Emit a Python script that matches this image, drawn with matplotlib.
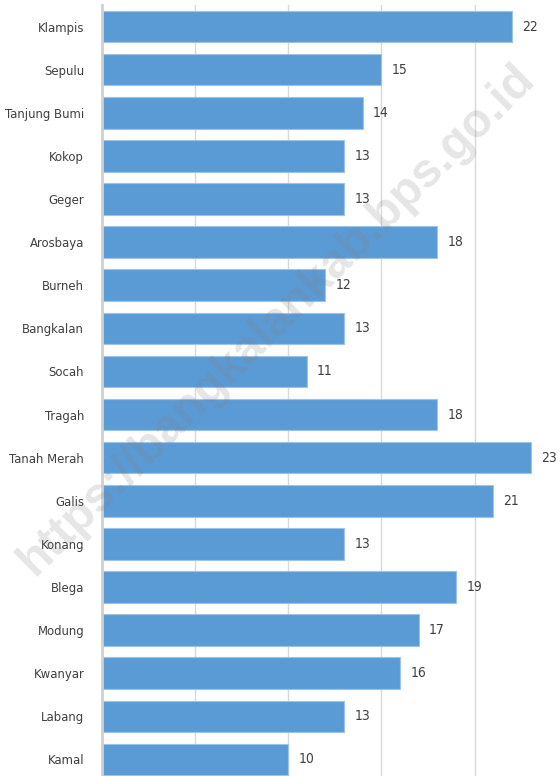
import matplotlib
matplotlib.use("Agg")
import matplotlib.pyplot as plt

# data
kecamatan = ["Klampis", "Sepulu", "Tanjung Bumi", "Kokop", "Geger", "Arosbaya",
             "Burneh", "Bangkalan", "Socah", "Tragah", "Tanah Merah", "Galis",
             "Konang", "Blega", "Modung", "Kwanyar", "Labang", "Kamal"]
nilai = [22, 15, 14, 13, 13, 18, 12, 13, 11, 18, 23, 21, 13, 19, 17, 16, 13, 10]
watermark = "https://bangkalankab.bps.go.id"

plt.rcParams['font.family'] = ['DejaVu Sans']
plt.rcParams['font.stretch'] = 'condensed'

fig = plt.figure(figsize=(5.6, 7.76), dpi=100)
ax = fig.add_axes([101.5 / 560, 1 - 781 / 776, 466.5 / 560, 776 / 776])

pos = list(range(len(kecamatan)))
ax.barh(pos, nilai, height=0.73, color='#5B9BD5', edgecolor='#9DC3E6', linewidth=0.8, zorder=2)

for p, v in zip(pos, nilai):
    ax.text(v + 0.55, p, str(v), va='center', ha='left', fontsize=10, color='#404040',
            fontstretch='condensed')

ax.set_yticks(pos)
ax.set_yticklabels(kecamatan, fontsize=9.4, color='#404040', fontstretch='condensed')
ax.set_ylim(17.5, -0.5)
ax.set_xlim(0, 25)
ax.set_xticks([0, 5, 10, 15, 20, 25])
ax.tick_params(axis='x', bottom=False, labelbottom=False)
ax.tick_params(axis='y', length=0, pad=12.5)
ax.grid(axis='x', color='#D9D9D9', linewidth=1, zorder=0)

for s in ['top', 'right', 'bottom']:
    ax.spines[s].set_visible(False)
ax.spines['left'].set_color('#D0D0D0')
ax.spines['left'].set_linewidth(2)
ax.spines['left'].set_zorder(3)

fig.text(277 / 560, 1 - 320 / 776, watermark, rotation=44.7, ha='center', va='center',
         fontsize=34.5, fontweight='bold', family='Liberation Sans', fontstretch='normal',
         color='#808080', alpha=0.2, rotation_mode='anchor', zorder=10)

fig.savefig("out.png", dpi=100)
